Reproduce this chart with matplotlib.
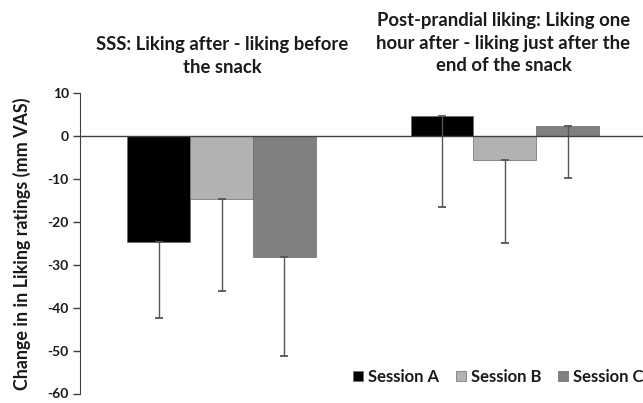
import matplotlib
matplotlib.use("Agg")
import matplotlib.pyplot as plt
import numpy as np

plt.rcParams['font.family'] = ['Lato', 'DejaVu Sans']

# change in liking (mm VAS), mean and SD per session
groups = ['SSS', 'Post-prandial']
sessions = ['Session A', 'Session B', 'Session C']
means = {
    'Session A': [-24.8, 4.6],
    'Session B': [-14.7, -5.7],
    'Session C': [-28.1, 2.3],
}
sds = {
    'Session A': [17.6, 21.2],
    'Session B': [21.4, 19.3],
    'Session C': [23.1, 12.1],
}
colors = ['#000000', '#b2b2b2', '#808080']
titles = ['SSS: Liking after - liking before\nthe snack',
          'Post-prandial liking: Liking one\nhour after - liking just after the\nend of the snack']
yticks = [10, 0, -10, -20, -30, -40, -50, -60]

W, H = 643, 403
fig = plt.figure(figsize=(W / 100, H / 100), dpi=100)
ax = fig.add_axes([80 / W, (H - 393.5) / H, (646.5 - 80) / W, 300.5 / H])

x = np.arange(len(groups))
bw = 0.2216
axis_col = '#404040'
txt_col = '#1a1a1a'
for i, s in enumerate(sessions):
    pos = x + (i - 1) * bw
    ax.bar(pos, means[s], bw, color=colors[i], edgecolor='#6a6a6a', linewidth=0.5,
           label=s, zorder=2)
    # one-sided (downward) error bars
    ax.errorbar(pos, means[s], yerr=[sds[s], [0] * len(groups)], fmt='none',
                ecolor='#555555', elinewidth=1, capsize=3, capthick=1.3, zorder=3)

ax.axhline(0, color=axis_col, lw=1, zorder=4)
ax.set_xlim(-0.5, 1.5)
ax.set_ylim(-60, 10)
ax.set_yticks(yticks)
ax.set_yticklabels([str(t) for t in yticks], fontsize=10, fontweight='bold', color=txt_col)
ax.set_xticks([])
for sp in ['top', 'right', 'bottom']:
    ax.spines[sp].set_visible(False)
ax.spines['left'].set_color(axis_col)
ax.tick_params(axis='y', length=5, width=1, color=axis_col, pad=3)

ax.set_ylabel('Change in in Liking ratings (mm VAS)', fontsize=12.9, fontweight='bold',
              color=txt_col, labelpad=12)

fig.text(222 / W, 1 - 56 / H, titles[0], ha='center', va='center', fontsize=13.3,
         fontweight='bold', color=txt_col, linespacing=1.4)
fig.text(503.5 / W, 1 - 43 / H, titles[1], ha='center', va='center', fontsize=13.3,
         fontweight='bold', color=txt_col, linespacing=1.4)

fig.legend(loc='center right', bbox_to_anchor=(1.024, 1 - 377 / H), ncol=3, frameon=False,
           prop={'size': 12, 'weight': 'bold'}, handlelength=0.6, handleheight=0.6,
           handletextpad=0.3, columnspacing=1.0, labelcolor=txt_col)

fig.savefig('out.png', dpi=100)
